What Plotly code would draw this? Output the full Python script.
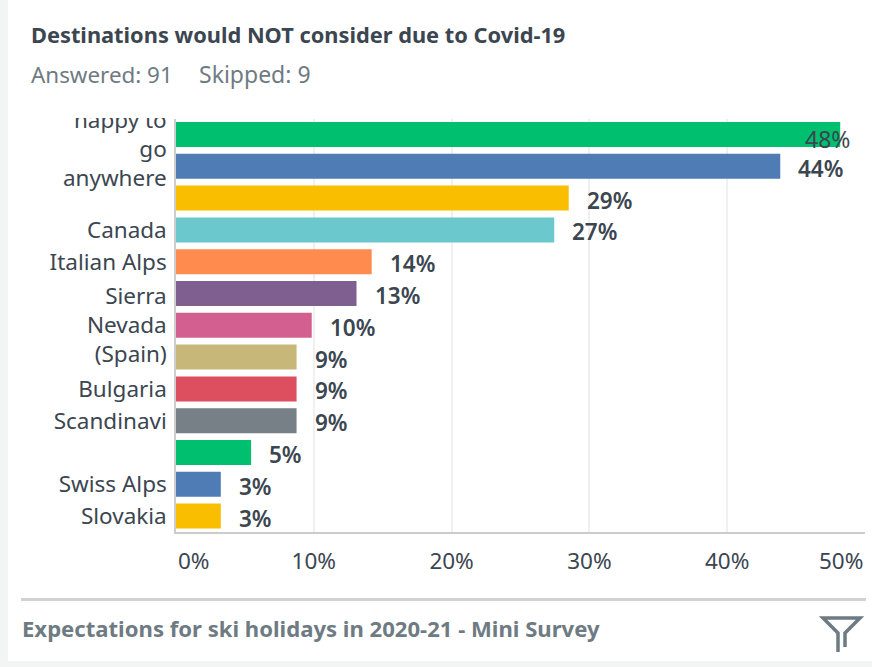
import plotly.graph_objects as go

W, H = 872, 667

row_labels = ["\u00a0<br>happy to<br>go<br>anywhere", "", "", "Canada", "Italian Alps",
              "", "Sierra<br>Nevada<br>(Spain)", "", "Bulgaria", "Scandinavi", "",
              "Swiss Alps", "Slovakia"]
values = [48.2, 43.85, 28.5, 27.45, 14.2, 13.1, 9.85, 8.75, 8.75, 8.75, 5.45, 3.25, 3.25]
value_labels = ["48%", "44%", "29%", "27%", "14%", "13%", "10%", "9%", "9%", "9%", "5%", "3%", "3%"]
bar_colors = ["#00bf6f", "#507cb6", "#f9be00", "#6bc8cd", "#ff8b4f", "#7f5f8f", "#d25f90",
              "#c7b879", "#dd4e5e", "#768086", "#00bf6f", "#507cb6", "#f9be00"]
x_ticks = [0, 10, 20, 30, 40, 50]

FONT = "Noto Sans"
INK = "#3b4650"
MUTED = "#6e7b83"
TICK_SIZE = 22.5
rows = list(range(len(values)))


def px(x):
    return x / W


def py(y):
    return 1 - y / H


fig = go.Figure(go.Bar(
    x=values, y=rows, orientation="h",
    marker=dict(color=bar_colors, line=dict(width=0)),
    hoverinfo="skip",
))

# value labels sit past the bar end; the longest one is pulled back over its bar
annotations = []
for i, (v, label) in enumerate(zip(values, value_labels)):
    first = i == 0
    annotations.append(dict(
        x=v, y=i, xref="x", yref="y", text=label,
        showarrow=False, xanchor="left", yanchor="middle",
        xshift=-37 if first else 16, yshift=-5 if first else -2,
        font=dict(family=FONT, size=23 if first else 22.5, color=INK, weight=400 if first else 600),
    ))

# the end ticks are aligned inward so they stay within the plot width
for tick, anchor in ((x_ticks[0], "left"), (x_ticks[-1], "right")):
    annotations.append(dict(
        x=tick, y=py(560), xref="x", yref="paper", text=f"{tick}%", showarrow=False,
        xanchor=anchor, yanchor="middle", font=dict(family=FONT, size=TICK_SIZE, color=INK),
    ))


def page_text(x, y, text, size, color, weight=400):
    return dict(x=px(x), y=py(y), xref="paper", yref="paper", text=text, showarrow=False,
                xanchor="left", yanchor="middle",
                font=dict(family=FONT, size=size, color=color, weight=weight))


annotations += [
    page_text(29, 35, "Destinations would NOT consider due to Covid-19", 21.8, INK, 700),
    page_text(29, 74, "Answered: 91", 22.4, MUTED),
    page_text(197, 74, "Skipped: 9", 23, MUTED),
    page_text(20, 627.5, "Expectations for ski holidays in 2020-21 - Mini Survey", 22.1, MUTED, 700),
]


def page_rect(x0, y0, x1, y1, color, layer="below"):
    return dict(type="rect", xref="paper", yref="paper", x0=px(x0), x1=px(x1), y0=py(y0), y1=py(y1),
                fillcolor=color, line=dict(width=0), layer=layer)


funnel = [(838, 652), (838, 633), (823, 618), (860, 618), (845, 633), (845, 647)]
funnel_path = "M" + " L".join(f"{px(a)},{py(b)}" for a, b in funnel)

shapes = [
    page_rect(0, 0, 8, H, "#f3f5f4"),
    page_rect(0, 661, W, H, "#f3f5f4"),
    # hides the part of the long wrapped label that runs above the plot
    page_rect(40, 82, 172, 118, "#ffffff", layer="above"),
    page_rect(21, 598, 866, 601, "#d0d2d3"),
    dict(type="path", xref="paper", yref="paper", path=funnel_path,
         line=dict(color=MUTED, width=3.5), fillcolor="rgba(0,0,0,0)", layer="above"),
]

fig.update_layout(
    width=W, height=H, autosize=False, showlegend=False,
    margin=dict(l=0, r=0, t=0, b=0),
    paper_bgcolor="#ffffff", plot_bgcolor="#ffffff",
    bargap=0.214,
    annotations=annotations, shapes=shapes,
    xaxis=dict(
        domain=[px(176), px(865)], range=[0, 50], tickmode="array", tickvals=x_ticks,
        ticktext=["" if t in (x_ticks[0], x_ticks[-1]) else f"{t}%" for t in x_ticks],
        showgrid=True, gridcolor="#f0f0f0", gridwidth=1.5, zeroline=False, automargin=False,
        showline=True, linecolor="#cccccc", linewidth=1.5, ticks="", ticklen=0,
        tickfont=dict(family=FONT, size=TICK_SIZE, color=INK), ticklabelstandoff=8, anchor="y",
    ),
    yaxis=dict(
        domain=[py(532), py(118.6)], range=[12.5, -0.5], tickmode="array", tickvals=rows,
        ticktext=row_labels, showgrid=False, zeroline=False, automargin=False,
        showline=True, linecolor="#cccccc", linewidth=1.5, ticks="",
        tickfont=dict(family=FONT, size=TICK_SIZE, color=INK), ticklabelstandoff=3, anchor="x",
    ),
)

fig.write_html("out.html", config={"displayModeBar": False})
